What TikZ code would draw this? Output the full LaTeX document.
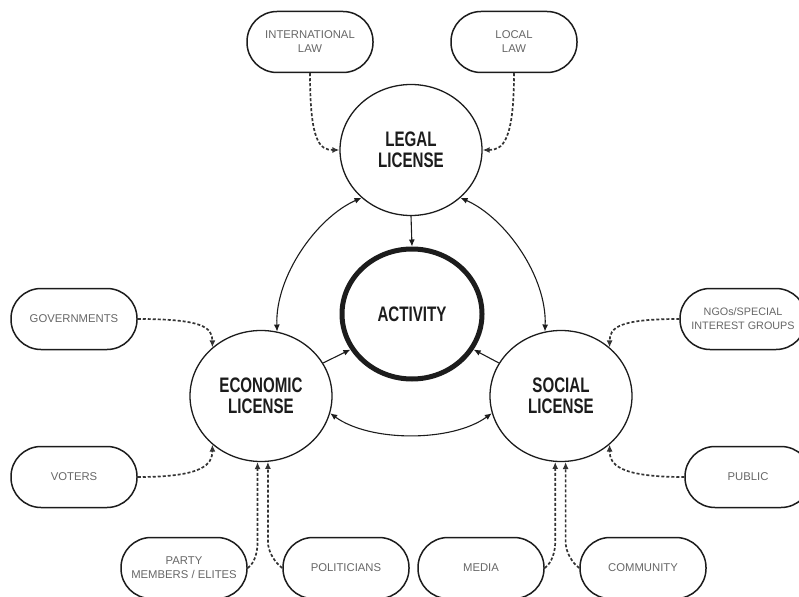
\documentclass[tikz,border=0pt]{standalone}
\usepackage{fontspec}
\setmainfont{Liberation Sans}
\newfontfamily\headfont[FakeStretch=0.72]{Liberation Sans}
\usepackage{tikz}
\usetikzlibrary{arrows.meta,shapes.geometric,calc}
\definecolor{ink}{HTML}{1C1C1C}
\definecolor{label}{HTML}{666666}
\tikzset{lic/.style={draw=ink,shape=ellipse,line width=1.3pt,minimum width=142pt,minimum height=131pt,inner sep=0pt,align=center,font=\headfont\bfseries\fontsize{21}{21}\selectfont,text=ink},actbox/.style={lic,line width=5pt,minimum width=140pt,minimum height=130pt},pill/.style={draw=ink,line width=1.5pt,rounded corners=30pt,minimum width=126pt,minimum height=61pt,align=center,font=\fontsize{11.3}{14}\selectfont,text=label},arr/.style={-{Latex[length=7pt,width=6pt]},line width=1.1pt,draw=ink},both/.style={arr,{Latex[length=7pt,width=6pt]}-{Latex[length=7pt,width=6pt]}},dep/.style={arr,line width=1.7pt,dash pattern=on 3pt off 2pt,draw=ink!90}}

\begin{document}
\begin{tikzpicture}[x=1pt,y=-1pt]
\useasboundingbox (0,0) rectangle (799,596);
\node[lic] (legal) at (411,150) {LEGAL\\LICENSE};
\node[actbox] (act) at (412,314) {ACTIVITY};
\node[lic] (econ) at (261,396) {ECONOMIC\\LICENSE};
\node[lic] (social) at (561,396) {SOCIAL\\LICENSE};
\node[pill] (intl) at (310,42) {INTERNATIONAL\\LAW};
\node[pill] (local) at (514,42) {LOCAL\\LAW};
\node[pill] (gov) at (74,319) {GOVERNMENTS};
\node[pill] (voters) at (74,477) {VOTERS};
\node[pill] (party) at (184,568) {PARTY\\MEMBERS / ELITES};
\node[pill] (pol) at (346,568) {POLITICIANS};
\node[pill] (media) at (481,568) {MEDIA};
\node[pill] (comm) at (643,568) {COMMUNITY};
\node[pill,font=\fontsize{10.8}{14}\selectfont] (ngo) at (743,319) {NGOs/SPECIAL\\INTEREST GROUPS};
\node[pill] (public) at (748,477) {PUBLIC};
\draw[arr] (legal.south) -- (act.north);
\draw[arr] (econ.28) -- (act.210);
\draw[arr] (social.152) -- (act.330);
\draw[both] (legal.224) .. controls +(-45,20) and +(-2,-55) .. (econ.76);
\draw[both] (legal.316) .. controls +(45,20) and +(2,-55) .. (social.104);
\draw[both] (econ.346) .. controls +(40,29) and +(-40,29) .. (social.194);
\draw[dep] (intl.south) .. controls +(0,68) and +(-20,0) .. (legal.west);
\draw[dep] (local.south) .. controls +(0,68) and +(20,0) .. (legal.east);
\draw[dep] (gov.east) .. controls +(65,0) and +(0,-20) .. (econ.135);
\draw[dep] (voters.east) .. controls +(65,0) and +(0,20) .. (econ.225);
\draw[dep] (ngo.west) .. controls +(-60,0) and +(0,-20) .. (social.45);
\draw[dep] (public.west) .. controls +(-65,0) and +(0,20) .. (social.315);
\draw[dep] (party.east) .. controls +(7,-5) and +(0,10) .. ($(econ.267)+(0,80)$) -- (econ.267);
\draw[dep] (pol.west) .. controls +(-7,-5) and +(0,10) .. ($(econ.276)+(0,80)$) -- (econ.276);
\draw[dep] (media.east) .. controls +(7,-5) and +(0,10) .. ($(social.265)+(0,80)$) -- (social.265);
\draw[dep] (comm.west) .. controls +(-7,-5) and +(0,10) .. ($(social.274)+(0,80)$) -- (social.274);
\end{tikzpicture}
\end{document}
